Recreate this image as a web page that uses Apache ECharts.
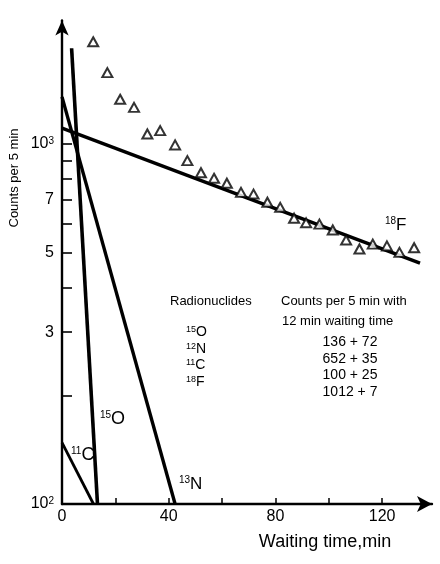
<!DOCTYPE html>
<html>
<head>
    <meta charset="utf-8">
    <title>waiting time</title>
    <script src="https://cdn.jsdelivr.net/npm/echarts@6/dist/echarts.min.js"></script>
</head>
<body style="margin:0">

<div id="decay" style="width: 440px;height:564px;"></div>

<script type="text/javascript">
    // measured points (triangles): waiting time (min) / counts per 5 min
    var triX = [11.7, 17.0, 21.8, 27.0, 32.0, 36.8, 42.4, 47.0, 52.1, 57.0, 61.8, 67.1, 71.8,
                77.0, 81.8, 87.0, 91.5, 96.5, 101.5, 106.5, 111.5, 116.5, 121.8, 126.5, 132.0];
    var triY = [1923, 1578, 1331, 1264, 1066, 1089, 994, 899, 832, 803, 778, 734, 726,
                689, 667, 622, 604, 599, 577, 541, 511, 527, 521, 500, 515];

    // fitted decay lines (start / end)
    var f18X = [0, 134.2],  f18Y = [1107, 467];
    var o15X = [3.6, 13.3], o15Y = [1845, 100];
    var n13X = [0, 42.4],   n13Y = [1352, 100];
    var c11X = [0, 11.8],   c11Y = [148, 100];

    var xTicks = [0, 20, 40, 60, 80, 100, 120];
    var xLabels = [0, 40, 80, 120];
    var yTicks = [200, 300, 400, 500, 600, 700, 800, 900, 1000];
    var yLabels = [100, 300, 500, 700, 1000];
    var yLabelText = {100: '10{s|2}', 300: '3', 500: '5', 700: '7', 1000: '10{s|3}'};

    var tableNuclides = [['15', 'O'], ['12', 'N'], ['11', 'C'], ['18', 'F']];
    var tableCounts = ['136 + 72', '652 + 35', '100 + 25', '1012 + 7'];

    var FONT = 'Liberation Sans';

    function pairs(xs, ys) {
        var out = [];
        for (var i = 0; i < xs.length; i++) {
            out.push([xs[i], ys[i]]);
        }
        return out;
    }

    function decayLine(xs, ys, w) {
        return {
            type: 'line',
            data: pairs(xs, ys),
            symbol: 'none',
            lineStyle: {color: '#000', width: w},
            z: 3
        };
    }

    function nuclide(mass, sym, x, y, big, small) {
        return {
            type: 'text',
            x: x, y: y,
            style: {
                text: '{s|' + mass + '}{b|' + sym + '}',
                verticalAlign: 'middle',
                rich: {
                    b: {fontSize: big, fontFamily: FONT, fill: '#000'},
                    s: {fontSize: small, fontFamily: FONT, fill: '#000', verticalAlign: 'top'}
                }
            }
        };
    }

    function plainText(txt, x, y, size, align) {
        return {
            type: 'text',
            x: x, y: y,
            style: {
                text: txt, fontSize: size, fontFamily: FONT, fill: '#000',
                align: align || 'left', verticalAlign: 'middle'
            }
        };
    }

    var graphics = [
        nuclide('18', 'F', 385, 225, 17, 10),
        nuclide('15', 'O', 100, 419, 18, 10),
        nuclide('11', 'C', 71, 455, 18, 10),
        nuclide('13', 'N', 179, 484, 17, 10),
        plainText('Radionuclides', 170, 301, 13),
        plainText('Counts per 5 min with', 281, 301, 13),
        plainText('12 min waiting time', 282, 321, 13),
        plainText('Waiting time,min', 325, 542, 18, 'center'),
        {
            type: 'text',
            x: 14, y: 178,
            rotation: Math.PI / 2,
            style: {
                text: 'Counts per 5 min', fontSize: 13, fontFamily: FONT, fill: '#000',
                align: 'center', verticalAlign: 'middle'
            }
        }
    ];
    for (var i = 0; i < tableNuclides.length; i++) {
        graphics.push(nuclide(tableNuclides[i][0], tableNuclides[i][1], 186, 332 + i * 16.7, 14, 9));
        graphics.push(plainText(tableCounts[i], 350, 342 + i * 16.7, 14, 'center'));
    }

    var chart = echarts.init(document.getElementById('decay'));
    chart.setOption({
        animation: false,
        backgroundColor: '#fff',
        textStyle: {fontFamily: FONT, color: '#000'},
        grid: {left: 62, right: 8, top: 20.5, bottom: 60, containLabel: false, outerBoundsMode: 'none'},
        xAxis: {
            type: 'value',
            min: 0,
            max: 138.7,
            interval: 20,
            splitLine: {show: false},
            axisLine: {
                lineStyle: {color: '#000', width: 2.4},
                symbol: ['none', 'arrow'],
                symbolSize: [12, 15]
            },
            axisTick: {inside: true, length: 6, customValues: xTicks, lineStyle: {color: '#000', width: 1.5}},
            axisLabel: {
                customValues: xLabels,
                fontSize: 16, color: '#000', margin: 5, fontFamily: FONT
            }
        },
        yAxis: {
            type: 'log',
            logBase: 10,
            min: 100,
            max: 2203,
            splitLine: {show: false},
            axisLine: {
                lineStyle: {color: '#000', width: 2.4},
                symbol: ['none', 'arrow'],
                symbolSize: [10, 15]
            },
            axisTick: {inside: true, length: 10, customValues: yTicks, lineStyle: {color: '#000', width: 1.6}},
            axisLabel: {
                customValues: yLabels,
                fontSize: 16, color: '#000', margin: 8, fontFamily: FONT,
                formatter: function (v) {
                    return yLabelText[Math.round(v)] || '';
                },
                rich: {s: {fontSize: 10, verticalAlign: 'top', fontFamily: FONT, color: '#000'}}
            }
        },
        series: [
            decayLine(f18X, f18Y, 3.4),
            decayLine(o15X, o15Y, 3.6),
            decayLine(n13X, n13Y, 3.4),
            decayLine(c11X, c11Y, 2.8),
            {
                type: 'scatter',
                data: pairs(triX, triY),
                symbol: 'triangle',
                symbolSize: [10, 9],
                itemStyle: {color: '#fff', borderColor: '#000', borderWidth: 2},
                z: 4
            }
        ],
        graphic: graphics
    });
</script>
</body>
</html>
